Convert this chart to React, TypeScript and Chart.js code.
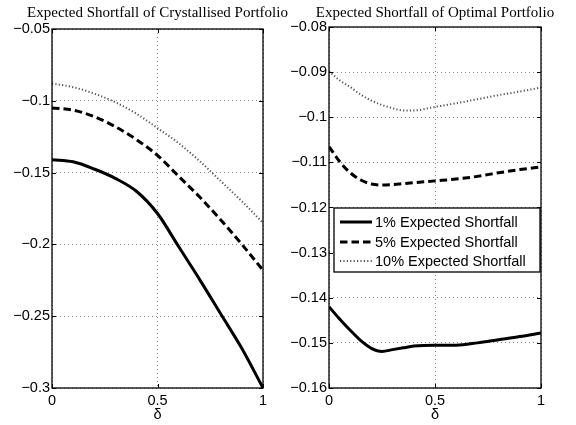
import React, { useEffect, useRef } from "react";
import { Chart, registerables } from "chart.js";

Chart.register(...registerables);

// ---------- data ----------
const deltaLeft = [0, 0.1, 0.2, 0.3, 0.4, 0.5, 0.6, 0.7, 0.8, 0.9, 1.0];
const es1Left = [-0.141, -0.1425, -0.1475, -0.154, -0.163, -0.1785, -0.2015, -0.2245, -0.2485, -0.2725, -0.3];
const es5Left = [-0.105, -0.1065, -0.111, -0.118, -0.127, -0.138, -0.1525, -0.167, -0.183, -0.2, -0.218];
const es10Left = [-0.088, -0.0905, -0.095, -0.101, -0.109, -0.119, -0.1295, -0.142, -0.156, -0.17, -0.185];

const deltaRight = [0, 0.05, 0.1, 0.15, 0.2, 0.25, 0.3, 0.35, 0.4, 0.5, 0.6, 0.7, 0.8, 0.9, 1.0];
const es1Right = [-0.142, -0.1447, -0.1472, -0.1495, -0.1512, -0.1519, -0.1515, -0.1511, -0.1507, -0.1505, -0.1505, -0.15, -0.1493, -0.1486, -0.1478];
const es5Right = [-0.1065, -0.1098, -0.1123, -0.1139, -0.1148, -0.115, -0.1149, -0.1147, -0.1145, -0.1141, -0.1137, -0.1131, -0.1123, -0.1116, -0.111];
const es10Right = [-0.0898, -0.0918, -0.0933, -0.095, -0.0963, -0.0973, -0.098, -0.0985, -0.0985, -0.0977, -0.0969, -0.096, -0.0951, -0.0943, -0.0934];

const xTicks = [0, 0.5, 1];
const yTicksLeft = [-0.3, -0.25, -0.2, -0.15, -0.1, -0.05];
const yTicksRight = [-0.16, -0.15, -0.14, -0.13, -0.12, -0.11, -0.1, -0.09, -0.08];

const seriesLabels = ["1% Expected Shortfall", "5% Expected Shortfall", "10% Expected Shortfall"];
const titleLeft = "Expected Shortfall of Crystallised Portfolio";
const titleRight = "Expected Shortfall of Optimal Portfolio";
const xAxisLabel = "δ";

// ---------- styles ----------
const SANS = '"Liberation Sans", Arial, sans-serif';
const SERIF = '"Liberation Serif", "Times New Roman", serif';
const seriesStyles = [
  { color: "#000000", width: 3, dash: [] as number[] },
  { color: "#000000", width: 3, dash: [7.5, 4] },
  { color: "#555555", width: 2, dash: [1.2, 2.2] },
];

const fmt = (v: number) => String(Math.round(v * 1000) / 1000).replace("-", "\u2212");

const framePlugin = {
  id: "frame",
  afterDraw(chart: any, _args: any, opts: any) {
    const { ctx, chartArea: a } = chart;
    ctx.save();
    ctx.strokeStyle = "#000";
    ctx.lineWidth = 1.3;
    ctx.setLineDash([]);
    ctx.strokeRect(a.left, a.top, a.right - a.left, a.bottom - a.top);
    const tl = 4;
    ctx.lineWidth = 1;
    ctx.beginPath();
    const xs = chart.scales.x;
    xs.ticks.forEach((t: any) => {
      const p = Math.round(xs.getPixelForValue(t.value)) + 0.5;
      ctx.moveTo(p, a.bottom);
      ctx.lineTo(p, a.bottom - tl);
      ctx.moveTo(p, a.top);
      ctx.lineTo(p, a.top + tl);
    });
    const ys = chart.scales.y;
    ys.ticks.forEach((t: any) => {
      const p = Math.round(ys.getPixelForValue(t.value)) + 0.5;
      ctx.moveTo(a.left, p);
      ctx.lineTo(a.left + tl, p);
      ctx.moveTo(a.right, p);
      ctx.lineTo(a.right - tl, p);
    });
    ctx.stroke();
    ctx.fillStyle = "#000";
    ctx.font = "15px " + SERIF;
    ctx.textAlign = "center";
    ctx.textBaseline = "alphabetic";
    ctx.fillText(opts.title, (a.left + a.right) / 2, 17);
    if (opts.legend) {
      const bx = a.left + 5;
      const by = a.top + 181;
      const bw = a.right - 1 - bx;
      const bh = 64;
      ctx.fillStyle = "#fff";
      ctx.fillRect(bx, by, bw, bh);
      ctx.strokeStyle = "#000";
      ctx.lineWidth = 1.3;
      ctx.strokeRect(bx, by, bw, bh);
      const rows = [14, 34, 53];
      chart.data.datasets.forEach((ds: any, i: number) => {
        const y = by + rows[i];
        ctx.strokeStyle = ds.borderColor;
        ctx.lineWidth = ds.borderWidth;
        ctx.setLineDash(ds.borderDash || []);
        ctx.beginPath();
        ctx.moveTo(bx + 6, y);
        ctx.lineTo(bx + 38, y);
        ctx.stroke();
        ctx.setLineDash([]);
        ctx.fillStyle = "#000";
        ctx.font = "14.5px " + SANS;
        ctx.textAlign = "left";
        ctx.textBaseline = "middle";
        ctx.fillText(ds.label, bx + 41, y + 1);
      });
    }
    ctx.restore();
  },
};

type PanelProps = {
  left: number;
  deltas: number[];
  series: number[][];
  yTicks: number[];
  title: string;
  legend: boolean;
  pad: { top: number; right: number };
  yAxisWidth: number;
};

function Panel(props: PanelProps) {
  const ref = useRef<HTMLCanvasElement | null>(null);
  useEffect(() => {
    if (!ref.current) return;
    const { deltas, series, yTicks } = props;
    const chart = new Chart(ref.current, {
      type: "line",
      data: {
        datasets: series.map((vals, i) => ({
          label: seriesLabels[i],
          data: deltas.map((d, j) => ({ x: d, y: vals[j] })),
          borderColor: seriesStyles[i].color,
          borderWidth: seriesStyles[i].width,
          borderDash: seriesStyles[i].dash,
          pointRadius: 0,
          cubicInterpolationMode: "monotone",
          fill: false,
        })),
      },
      options: {
        animation: false,
        responsive: false,
        events: [],
        layout: { padding: { left: 0, top: props.pad.top, right: props.pad.right, bottom: 0 } },
        plugins: {
          legend: { display: false },
          tooltip: { enabled: false },
          title: { display: false },
          frame: { title: props.title, legend: props.legend },
        } as any,
        scales: {
          x: {
            type: "linear",
            min: 0,
            max: 1,
            afterBuildTicks: (s: any) => {
              s.ticks = xTicks.map((v) => ({ value: v }));
            },
            afterFit: (s: any) => {
              s.height = 37;
            },
            ticks: {
              color: "#000",
              font: { family: SANS, size: 14.5 },
              padding: 4,
              maxRotation: 0,
              callback: (v: any) => fmt(Number(v)),
            },
            grid: { color: "#8a8a8a", lineWidth: 1, drawTicks: false },
            border: { display: false, dash: [1, 3] },
            title: {
              display: true,
              text: xAxisLabel,
              color: "#000",
              font: { family: SANS, size: 14.5 },
              padding: { top: 0, bottom: 1 },
            },
          },
          y: {
            type: "linear",
            min: yTicks[0],
            max: yTicks[yTicks.length - 1],
            afterBuildTicks: (s: any) => {
              s.ticks = yTicks.map((v) => ({ value: v }));
            },
            afterFit: (s: any) => {
              s.width = props.yAxisWidth;
            },
            ticks: {
              color: "#000",
              font: { family: SANS, size: 14.5 },
              padding: 2,
              callback: (v: any) => fmt(Number(v)),
            },
            grid: { color: "#8a8a8a", lineWidth: 1, drawTicks: false },
            border: { display: false, dash: [1, 3] },
          },
        },
      },
      plugins: [framePlugin as any],
    });
    return () => chart.destroy();
  }, []);
  return (
    <canvas
      ref={ref}
      width={288}
      height={425}
      style={{ position: "absolute", left: props.left, top: 0, width: 288, height: 425 }}
    />
  );
}

export default function App() {
  return (
    <div style={{ position: "absolute", left: 0, top: 0, width: 576, height: 425, background: "#fff" }}>
      <Panel
        left={0}
        deltas={deltaLeft}
        series={[es1Left, es5Left, es10Left]}
        yTicks={yTicksLeft}
        title={titleLeft}
        legend={false}
        pad={{ top: 29, right: 25 }}
        yAxisWidth={52}
      />
      <Panel
        left={288}
        deltas={deltaRight}
        series={[es1Right, es5Right, es10Right]}
        yTicks={yTicksRight}
        title={titleRight}
        legend={true}
        pad={{ top: 27, right: 35 }}
        yAxisWidth={41}
      />
    </div>
  );
}
